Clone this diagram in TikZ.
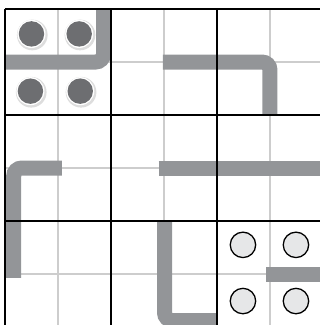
\documentclass[tikz,border=0pt]{standalone}
\usepackage{tikz}
\definecolor{barc}{HTML}{939598}
\definecolor{dotc}{HTML}{6D6E71}
\definecolor{holec}{HTML}{E6E7E8}
\definecolor{thinc}{HTML}{CDCDCD}
\definecolor{shadec}{HTML}{DDDDDD}

\begin{document}
\begin{tikzpicture}[x=53pt, y=53pt,
    bar/.style={barc, line width=15pt, rounded corners=8pt}]
  \useasboundingbox (-0.094,0.038) rectangle (5.943,6.170);
  \clip (-0.094,0.038) rectangle (5.943,6.170);
  \draw[step=1, thinc, line width=1.5pt] (0,0) grid (6,6);
  % grey walls
  \draw[bar] (0,5) -- (1.86,5) -- (1.86,6);
  \draw[bar] (2.98,5) -- (5,5) -- (5,4);
  \draw[bar] (1.075,3) -- (0.165,3) -- (0.165,0.925);
  \draw[bar] (2.9,3) -- (6.1,3);
  \draw[bar] (3.01,1.98) -- (3.01,0.12) -- (3.98,0.12);
  \draw[bar] (4.925,1) -- (6.1,1);
  \draw[step=2, black, line width=1.3pt] (0,0) grid (6,6);
  % filled dots
  \foreach \x/\y in {0.5/5.53, 1.4/5.53, 0.48/4.45, 1.42/4.45} {
    \fill[shadec] (\x+0.015,\y-0.02) circle (0.29);
    \fill[white] (\x,\y) circle (0.265);
    \fill[dotc] (\x,\y) circle (0.24);
  }
  % open dots
  \foreach \x/\y in {4.49/1.55, 5.49/1.55, 4.49/0.49, 5.49/0.49}
    \draw[fill=holec, line width=1.3pt] (\x,\y) circle (0.24);
\end{tikzpicture}
\end{document}
